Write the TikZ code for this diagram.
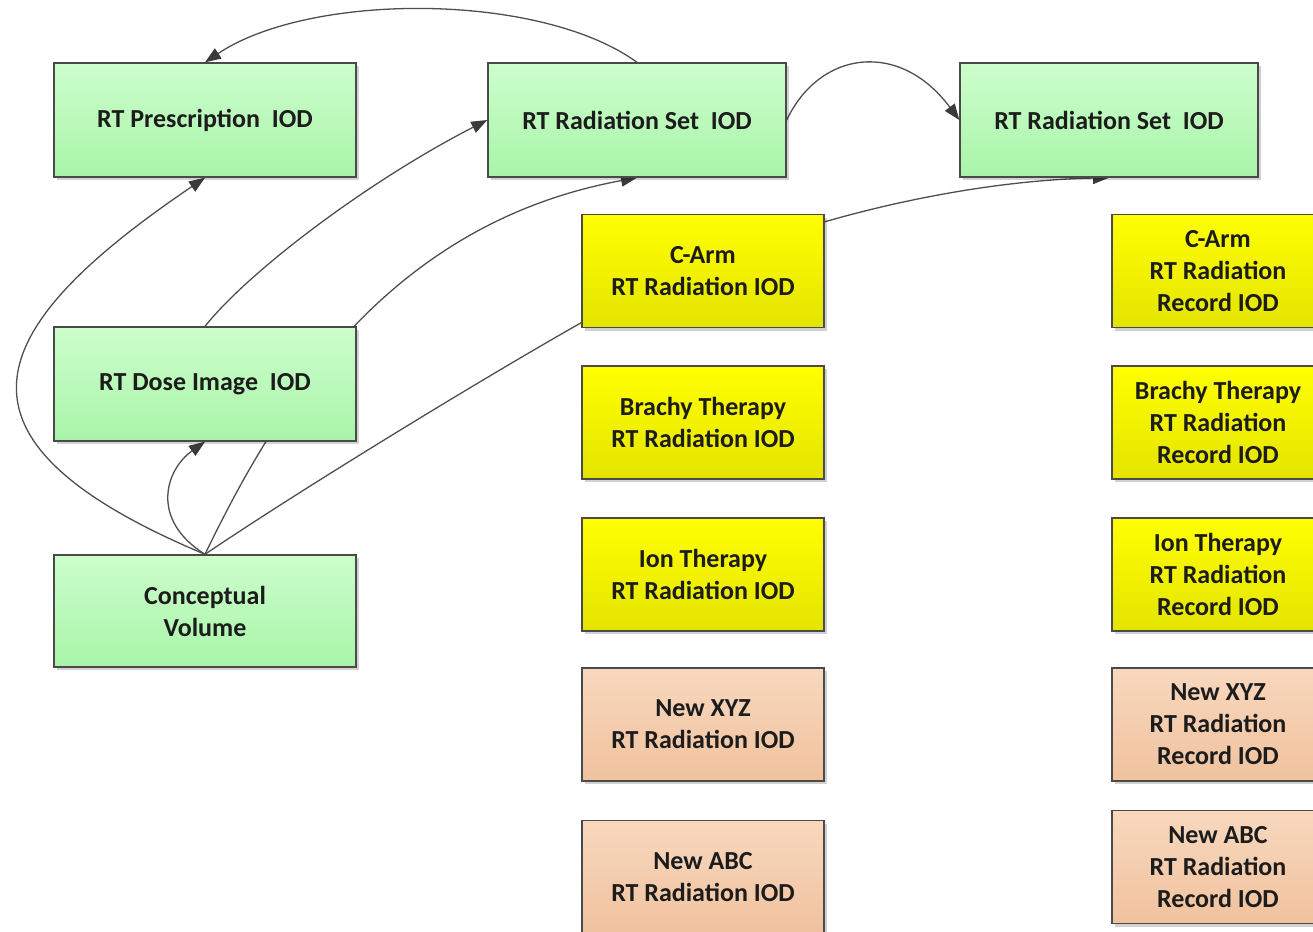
\documentclass[tikz,border=0pt]{standalone}
\usepackage{fontspec}
\setmainfont{Carlito}
\usetikzlibrary{shadows,arrows.meta}

\definecolor{gtop}{HTML}{CCFECC}
\definecolor{gbot}{HTML}{A9F4A9}
\definecolor{ytop}{HTML}{FFFF00}
\definecolor{ybot}{HTML}{E4E400}
\definecolor{ptop}{HTML}{F8D8BE}
\definecolor{pbot}{HTML}{F0C29E}
\definecolor{boxline}{HTML}{4A4A4A}
\definecolor{linkc}{HTML}{4F4F4F}
\definecolor{tipc}{HTML}{3A3A3A}
\definecolor{txt}{HTML}{1C1C1C}

\pgfdeclarelayer{background}
\pgfsetlayers{background,main}

\tikzset{
  iod/.style={draw=boxline, line width=1.4pt, text=txt, align=center,
    inner sep=0pt, font=\bfseries\fontsize{26}{32}\selectfont,
    drop shadow={shadow xshift=3pt, shadow yshift=-3pt, fill=black, opacity=0.18}},
  grn/.style={iod, top color=gtop, bottom color=gbot},
  ylw/.style={iod, top color=ytop, bottom color=ybot},
  pch/.style={iod, top color=ptop, bottom color=pbot},
  wide/.style={minimum width=302pt, minimum height=114pt},
  setw/.style={minimum width=298pt, minimum height=114pt},
  midw/.style={minimum width=242pt, minimum height=113pt},
  rgtw/.style={minimum width=212pt, minimum height=113pt},
  link/.style={draw=linkc, line width=1.3pt},
  arr/.style={link, -{Triangle[length=16pt,width=12pt,color=tipc]}}
}

\begin{document}
\begin{tikzpicture}[x=1pt,y=-1pt]
\path[use as bounding box] (0,0) rectangle (1313,931);
\clip (0,0) rectangle (1313,931);

% left column
\node[grn, wide] (presc) at (205,120) {RT Prescription\ \ IOD};
\node[grn, wide] (dose)  at (205,384) {RT Dose Image\ \ IOD};
\node[grn, wide, minimum height=112pt] (cv) at (205,611) {Conceptual\\Volume};

% radiation sets
\node[grn, setw] (setL) at (637,120) {RT Radiation Set\ \ IOD};
\node[grn, setw] (setR) at (1109,120) {RT Radiation Set\ \ IOD};

% radiation IODs
\node[ylw, midw] (carm)   at (703,271)   {C-Arm\\RT Radiation IOD};
\node[ylw, midw] (brachy) at (703,422.5) {Brachy Therapy\\RT Radiation IOD};
\node[ylw, midw] (ion)    at (703,574.5) {Ion Therapy\\RT Radiation IOD};
\node[pch, midw] (xyz)    at (703,724.5) {New XYZ\\RT Radiation IOD};
\node[pch, midw] (abc)    at (703,877)   {New ABC\\RT Radiation IOD};

% radiation record IODs
\node[ylw, rgtw] (rcarm)   at (1218,271)   {C-Arm\\RT Radiation\\Record IOD};
\node[ylw, rgtw] (rbrachy) at (1218,422.5) {Brachy Therapy\\RT Radiation\\Record IOD};
\node[ylw, rgtw] (rion)    at (1218,574.5) {Ion Therapy\\RT Radiation\\Record IOD};
\node[pch, rgtw] (rxyz)    at (1218,724.5) {New XYZ\\RT Radiation\\Record IOD};
\node[pch, rgtw] (rabc)    at (1218,867)   {New ABC\\RT Radiation\\Record IOD};

% references between IODs
\begin{pgfonlayer}{background}
\draw[arr] (setL.north) .. controls (540,-8) and (310,-8) .. (presc.north);
\draw[arr] (setL.east) .. controls (820,50) and (900,40) .. (setR.west);
\draw[arr] (carm.22) .. controls (900,200) and (1000,180) .. (setR.south);
\draw[arr] (cv.north) .. controls (-68,440) and (-20,330) .. (presc.south);
\draw[arr] (cv.north) .. controls (150,520) and (165,470) .. (dose.south);
\draw[arr] (cv.north) .. controls (270,420) and (380,225) .. (setL.south);
\draw[arr] (dose.north) .. controls (250,270) and (370,180) .. (setL.west);
\draw[link] (cv.north) .. controls (300,490) and (480,380) .. (carm.203);
\end{pgfonlayer}
\end{tikzpicture}
\end{document}
